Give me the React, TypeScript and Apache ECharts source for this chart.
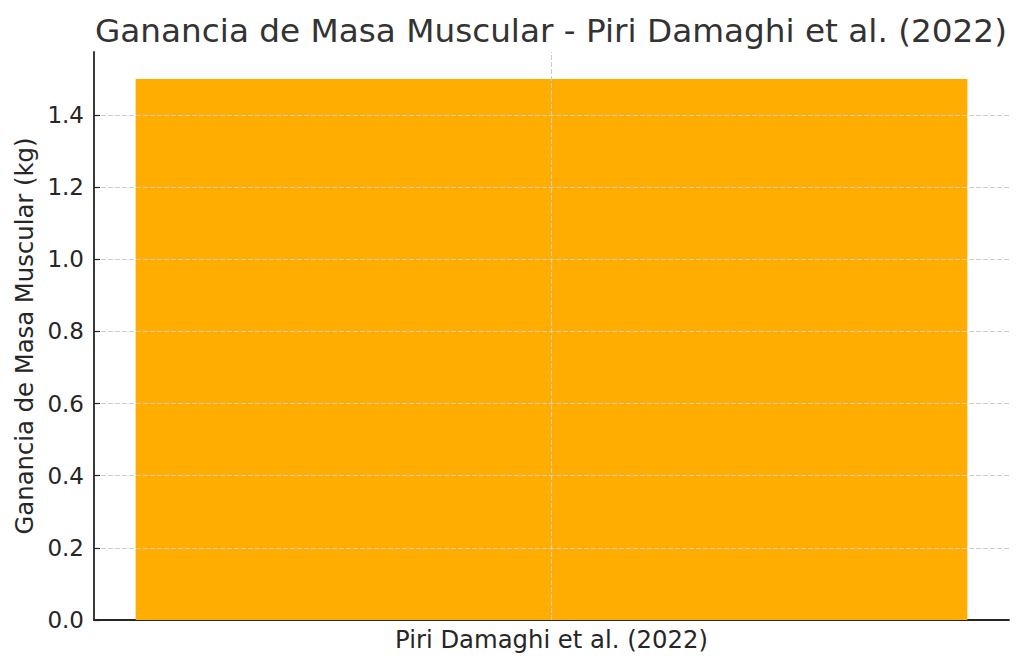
import { useEffect, useRef } from "react";
import * as echarts from "echarts";

const categories = ["Piri Damaghi et al. (2022)"];
const gains = [1.5];
const yTicks = [0, 0.2, 0.4, 0.6, 0.8, 1.0, 1.2, 1.4];

const FONT = "DejaVu Sans";
const GRID = "#cccccc";
const NONE = "rgba(0,0,0,0)";

export default function App() {
  const chartRef = useRef<HTMLDivElement>(null);

  useEffect(() => {
    if (!chartRef.current) return;
    const chart = echarts.init(chartRef.current, null, { renderer: "svg" });

    chart.setOption({
      animation: false,
      backgroundColor: "#ffffff",
      textStyle: { fontFamily: FONT },
      title: {
        text: "Ganancia de Masa Muscular - Piri Damaghi et al. (2022)",
        left: 90,
        top: 9,
        textStyle: { fontFamily: FONT, fontSize: 32.7, fontWeight: "normal", color: "#333333" },
      },
      grid: { left: 94, right: 15, top: 52, bottom: 47 },
      xAxis: {
        type: "category",
        data: categories,
        boundaryGap: true,
        axisLine: { show: true, lineStyle: { color: "#262626", width: 1.8 } },
        axisTick: { show: true, inside: true, alignWithLabel: true, length: 6, lineStyle: { color: "#262626", width: 1.2 } },
        axisLabel: { fontFamily: FONT, fontSize: 24.3, color: "#262626", margin: 7 },
        splitLine: { show: false },
      },
      yAxis: {
        type: "value",
        min: 0,
        max: 1.575,
        interval: 0.2,
        z: 3,
        name: "Ganancia de Masa Muscular (kg)",
        nameLocation: "middle",
        nameGap: 57,
        nameTextStyle: { fontFamily: FONT, fontSize: 24.3, color: "#262626" },
        axisLine: { show: true, lineStyle: { color: "#262626", width: 1.8 } },
        axisTick: { show: true, inside: true, length: 6, customValues: yTicks, lineStyle: { color: "#262626", width: 1.2 } },
        axisLabel: {
          fontFamily: FONT,
          fontSize: 23,
          color: "#262626",
          margin: 10,
          customValues: yTicks,
          formatter: (v: number) => v.toFixed(1),
        },
        splitLine: {
          show: true,
          lineStyle: {
            color: [NONE, GRID, GRID, GRID, GRID, GRID, GRID, GRID, NONE],
            type: [5, 2],
            width: 1,
          },
        },
      },
      series: [
        {
          type: "bar",
          data: gains,
          barWidth: "90.9%",
          itemStyle: { color: "#FFAD00" },
          markLine: {
            silent: true,
            symbol: "none",
            label: { show: false },
            lineStyle: { color: GRID, type: [5, 2], width: 1 },
            data: [{ xAxis: 0 }],
          },
        },
      ],
    });

    return () => chart.dispose();
  }, []);

  return (
    <div
      ref={chartRef}
      style={{ position: "absolute", left: 0, top: 0, width: 1024, height: 667 }}
    />
  );
}
